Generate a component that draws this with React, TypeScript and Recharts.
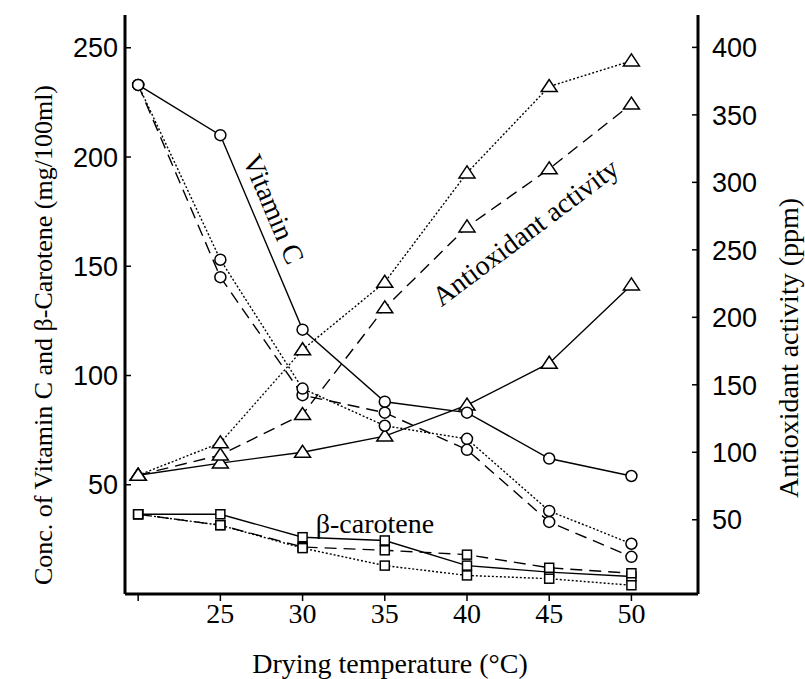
import { LineChart, Line, XAxis, YAxis } from "recharts";

// drying temperature; the first point (fresh sample) has no tick label
const temps = [20, 25, 30, 35, 40, 45, 50];
const xTicks = [20, 25, 30, 35, 40, 45, 50];
const leftTicks = [50, 100, 150, 200, 250];
const rightTicks = [50, 100, 150, 200, 250, 300, 350, 400];

// vitamin C (mg/100ml), left axis
const vitCSolid = [233, 210, 121, 88, 83, 62, 54];
const vitCDashed = [233, 145, 91, 83, 66, 33, 17];
const vitCDotted = [233, 153, 94, 77, 71, 38, 23];
// antioxidant activity (ppm), right axis
const antiSolid = [83, 92, 100, 112, 135, 166, 224];
const antiDashed = [83, 98, 128, 207, 267, 310, 358];
const antiDotted = [83, 107, 176, 226, 307, 371, 390];
// beta-carotene (mg/100ml), left axis
const betaSolid = [36.5, 36.5, 26, 24.5, 13, 10, 8];
const betaDashed = [36.5, 31.5, 21.5, 20, 18, 12, 9.5];
const betaDotted = [36.5, 31.5, 21, 13, 8.5, 7, 4];

const data = temps.map((t, i) => ({
  t,
  vitCSolid: vitCSolid[i],
  vitCDashed: vitCDashed[i],
  vitCDotted: vitCDotted[i],
  antiSolid: antiSolid[i],
  antiDashed: antiDashed[i],
  antiDotted: antiDotted[i],
  betaSolid: betaSolid[i],
  betaDashed: betaDashed[i],
  betaDotted: betaDotted[i],
}));

const SERIF = '"Liberation Serif", "Times New Roman", serif';
const SANS = '"Liberation Sans", Arial, sans-serif';
const DASHED = "12 7";
const DOTTED = "2 2";

type Shape = "circle" | "triangle" | "square";

const series: { key: string; axis: string; shape: Shape; dash?: string }[] = [
  { key: "betaSolid", axis: "left", shape: "square" },
  { key: "betaDashed", axis: "left", shape: "square", dash: DASHED },
  { key: "betaDotted", axis: "left", shape: "square", dash: DOTTED },
  { key: "antiSolid", axis: "right", shape: "triangle" },
  { key: "antiDashed", axis: "right", shape: "triangle", dash: DASHED },
  { key: "antiDotted", axis: "right", shape: "triangle", dash: DOTTED },
  { key: "vitCSolid", axis: "left", shape: "circle" },
  { key: "vitCDashed", axis: "left", shape: "circle", dash: DASHED },
  { key: "vitCDotted", axis: "left", shape: "circle", dash: DOTTED },
];

function makeDot(shape: Shape, name: string) {
  return (p: any) => {
    const { cx, cy, index } = p;
    const k = `${name}-${index}`;
    if (cx == null || cy == null) return <g key={k} />;
    const st = { fill: "#fff", stroke: "#000", strokeWidth: 1.5 };
    if (shape === "circle") return <circle key={k} cx={cx} cy={cy} r={5.5} {...st} />;
    if (shape === "square")
      return <rect key={k} x={cx - 4.5} y={cy - 4.5} width={9} height={9} {...st} />;
    return (
      <polygon
        key={k}
        points={`${cx},${cy - 7} ${cx - 8},${cy + 5} ${cx + 8},${cy + 5}`}
        {...st}
      />
    );
  };
}

const LeftTick = (p: any) => (
  <g>
    <line x1={p.x + 7} x2={p.x + 13} y1={p.y} y2={p.y} stroke="#000" strokeWidth={1.5} />
    <text x={p.x} y={p.y} dy="0.36em" textAnchor="end" fontFamily={SANS} fontSize={27} fill="#000">
      {p.payload.value}
    </text>
  </g>
);

const RightTick = (p: any) => (
  <g>
    <line x1={p.x - 14} x2={p.x - 20} y1={p.y} y2={p.y} stroke="#000" strokeWidth={1.5} />
    <text x={p.x} y={p.y} dy="0.36em" textAnchor="start" fontFamily={SANS} fontSize={27} fill="#000">
      {p.payload.value}
    </text>
  </g>
);

const BottomTick = (p: any) => (
  <g>
    <line x1={p.x} x2={p.x} y1={p.y} y2={p.y + 7} stroke="#000" strokeWidth={1.5} />
    {p.payload.value !== 20 && (
      <text x={p.x} y={p.y + 29} textAnchor="middle" fontFamily={SERIF} fontSize={28} fill="#000">
        {p.payload.value}
      </text>
    )}
  </g>
);

export default function App() {
  const axisLine = { stroke: "#000", strokeWidth: 3 };
  return (
    <div style={{ position: "absolute", left: 0, top: 0, width: 805, height: 679, background: "#fff" }}>
      <LineChart width={805} height={679} data={data} margin={{ top: 15, right: 0, bottom: 0, left: 0 }}>
        <XAxis
          dataKey="t"
          type="number"
          domain={[19.2, 54.05]}
          allowDataOverflow
          ticks={xTicks}
          interval={0}
          height={85}
          tickSize={0}
          tickMargin={0}
          tickLine={false}
          axisLine={axisLine}
          tick={BottomTick}
        />
        <YAxis
          yAxisId="left"
          domain={[0, 265]}
          allowDataOverflow
          ticks={leftTicks}
          interval={0}
          width={125}
          tickSize={0}
          tickMargin={7}
          tickLine={false}
          axisLine={axisLine}
          tick={LeftTick}
        />
        <YAxis
          yAxisId="right"
          orientation="right"
          domain={[-5, 424]}
          allowDataOverflow
          ticks={rightTicks}
          interval={0}
          width={107}
          tickSize={0}
          tickMargin={14}
          tickLine={false}
          axisLine={axisLine}
          tick={RightTick}
        />
        {series.map((s) => (
          <Line
            key={s.key}
            yAxisId={s.axis}
            dataKey={s.key}
            type="linear"
            stroke="#000"
            strokeWidth={1.4}
            strokeDasharray={s.dash}
            dot={makeDot(s.shape, s.key)}
            activeDot={false}
            isAnimationActive={false}
          />
        ))}
      </LineChart>
      <svg
        width={805}
        height={679}
        style={{ position: "absolute", left: 0, top: 0, pointerEvents: "none" }}
      >
        <g fontFamily={SERIF} fill="#000">
          <text
            transform="translate(52,335) rotate(-90)"
            textAnchor="middle"
            fontSize={26}
          >
            Conc. of Vitamin C and β-Carotene (mg/100ml)
          </text>
          <text
            transform="translate(798,348) rotate(-90)"
            textAnchor="middle"
            fontSize={28}
          >
            Antioxidant activity (ppm)
          </text>
          <text x={390} y={673} textAnchor="middle" fontSize={28}>
            Drying temperature (°C)
          </text>
          <text
            transform="translate(274,209) rotate(67)"
            textAnchor="middle"
            dy="0.35em"
            fontSize={28}
          >
            Vitamin C
          </text>
          <text
            transform="translate(525,232) rotate(-37)"
            textAnchor="middle"
            dy="0.35em"
            fontSize={28}
          >
            Antioxidant activity
          </text>
          <text x={375} y={533} textAnchor="middle" fontSize={28}>
            β-carotene
          </text>
        </g>
      </svg>
    </div>
  );
}
